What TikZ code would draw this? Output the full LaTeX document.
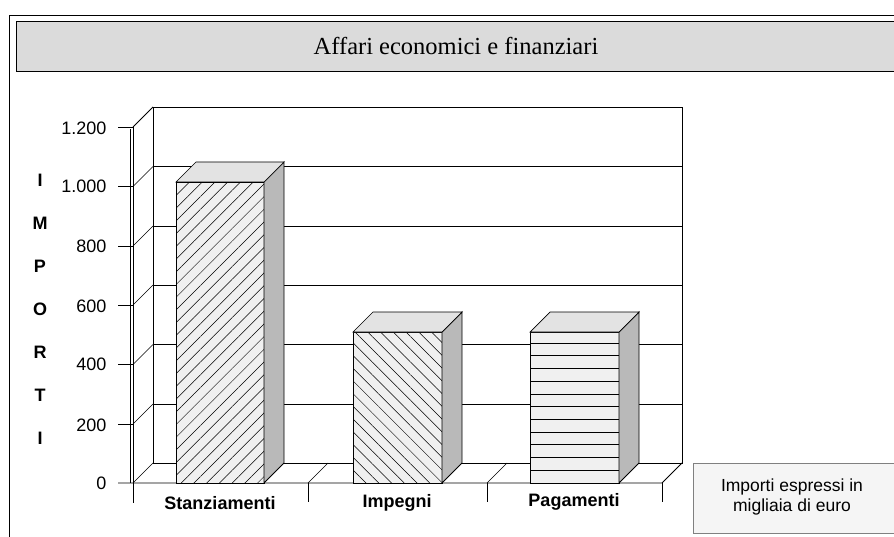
\documentclass[tikz,border=0pt]{standalone}
\usepackage{fontspec}
\setmainfont{Liberation Serif}
\newfontfamily\arialfont{Liberation Sans}
\usetikzlibrary{patterns.meta}
\begin{document}
\begin{tikzpicture}[x=1pt,y=-1pt,
  frame/.style={line width=.9pt},
  gridline/.style={line width=.6pt},
  barfront/.style={draw,line width=.9pt,preaction={fill=gray!12}},
  barside/.style={draw,line width=.9pt,fill=gray!55},
  bartop/.style={draw,line width=.7pt,fill=gray!22},
  ylab/.style={anchor=east,font=\arialfont\fontsize{18}{18}\selectfont},
  catlab/.style={font=\arialfont\bfseries\fontsize{18}{18}\selectfont},
  axisletter/.style={font=\arialfont\bfseries\fontsize{18}{18}\selectfont}]
\useasboundingbox (0,0) rectangle (894,537);
\draw[frame] (9,537) -- (9,15) -- (894,15);
\fill[gray!28] (16,21) rectangle (894,71);
\draw[frame] (894,21) -- (16,21) -- (16,71) -- (894,71);
\node[font=\fontsize{24.5}{24.5}\selectfont] (title) at (456,46) {Affari economici e finanziari};
\draw[gridline] (153,107) rectangle (682,463);
\draw[gridline] (153,166.5) -- (682,166.5); \draw[gridline] (153,226) -- (682,226); \draw[gridline] (153,285) -- (682,285);
\draw[gridline] (153,344.5) -- (682,344.5); \draw[gridline] (153,404) -- (682,404);
\draw[frame] (133,127) -- (153,107); \draw[frame] (133,127) -- (133,503); \draw[gridline] (130.5,129) -- (130.5,483);
\draw[gridline] (133,186.5) -- (153,166.5); \draw[gridline] (133,246) -- (153,226); \draw[gridline] (133,305) -- (153,285);
\draw[gridline] (133,364.5) -- (153,344.5); \draw[gridline] (133,424) -- (153,404);
\draw[gridline] (118,127) -- (133,127); \draw[gridline] (118,186.5) -- (133,186.5); \draw[gridline] (118,246) -- (133,246);
\draw[gridline] (118,305) -- (133,305); \draw[gridline] (118,364.5) -- (133,364.5); \draw[gridline] (118,424) -- (133,424);
\draw[frame] (118,483) -- (662,483) -- (682,463);
\draw[gridline] (133,483) -- (153,463); \draw[gridline] (308,483) -- (328,463); \draw[gridline] (487,483) -- (507,463);
\draw[gridline] (308,483) -- (308,502); \draw[gridline] (487,483) -- (487,502); \draw[gridline] (662,483) -- (662,502);
\node[ylab] (l1200) at (110,128) {1.200}; \node[ylab] (l1000) at (110,186) {1.000}; \node[ylab] (l800) at (110,246) {800};
\node[ylab] (l600) at (110,306) {600}; \node[ylab] (l400) at (110,364) {400}; \node[ylab] (l200) at (110,425) {200};
\node[ylab] (l0) at (110,483) {0};
\node[axisletter] (i1) at (40,180) {I}; \node[axisletter] (m) at (40,223) {M}; \node[axisletter] (p) at (40,266) {P};
\node[axisletter] (o) at (40,309) {O}; \node[axisletter] (r) at (40,352) {R}; \node[axisletter] (t) at (40,395) {T};
\node[axisletter] (i2) at (40,438) {I};
\draw[barfront,pattern={Lines[angle=45,distance=9pt,line width=.5pt]}] (176,483) rectangle (264,182);
\draw[barside] (264,483) -- (284,463) -- (284,162) -- (264,182) -- cycle;
\draw[bartop] (176,182) -- (196,162) -- (284,162) -- (264,182) -- cycle;
\draw[barfront,pattern={Lines[angle=-45,distance=9pt,line width=.5pt]}] (353,483) rectangle (442,332);
\draw[barside] (442,483) -- (462,463) -- (462,312) -- (442,332) -- cycle;
\draw[bartop] (353,332) -- (373,312) -- (462,312) -- (442,332) -- cycle;
\draw[barfront] (530,483) rectangle (619,332);
\foreach \y in {343,355.7,...,471} \draw[gridline] (530,\y) -- (619,\y);
\draw[barside] (619,483) -- (639,463) -- (639,312) -- (619,332) -- cycle;
\draw[bartop] (530,332) -- (550,312) -- (639,312) -- (619,332) -- cycle;
\node[catlab] (stanz) at (220,503) {Stanziamenti}; \node[catlab] (impe) at (397,503) {Impegni}; \node[catlab] (paga) at (574,502) {Pagamenti};
\draw[gray,line width=.7pt,fill=gray!8] (693,463) rectangle (896,533);
\node[align=center,font=\arialfont\fontsize{17.5}{20}\selectfont] (note) at (792,497) {Importi espressi in\\migliaia di euro};
\end{tikzpicture}
\end{document}
